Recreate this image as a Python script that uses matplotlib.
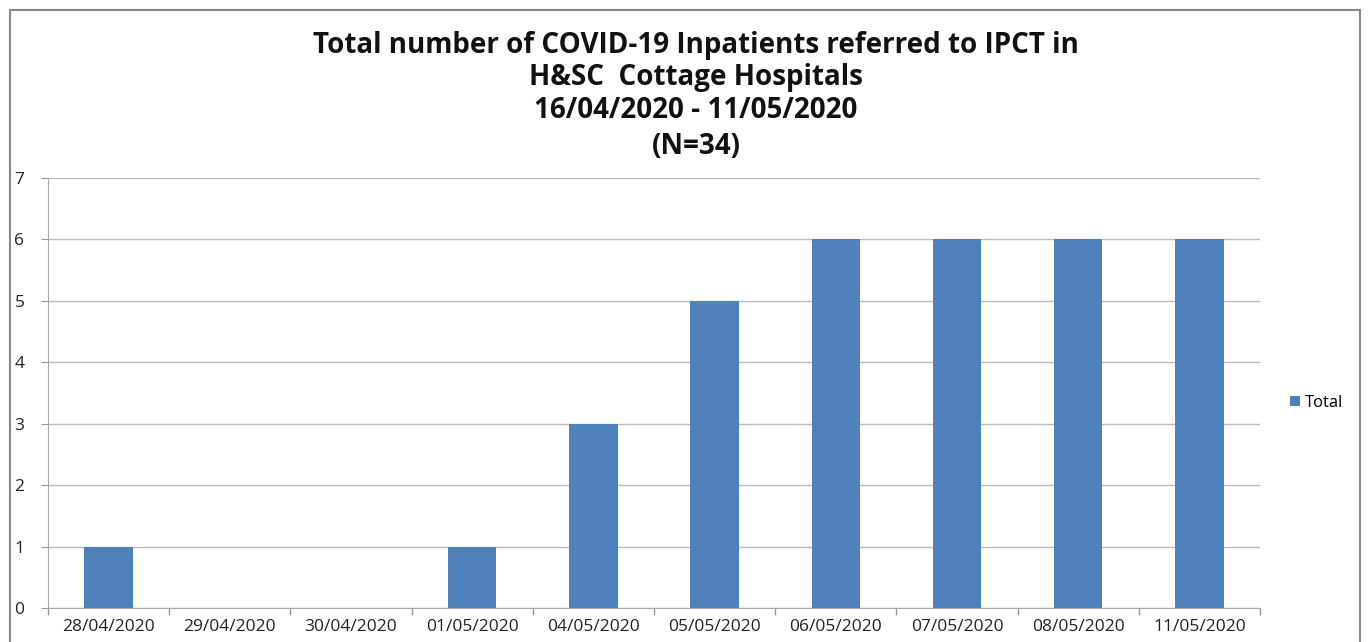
import numpy as np
import matplotlib.pyplot as plt
from matplotlib.patches import Rectangle

dates = ['28/04/2020', '29/04/2020', '30/04/2020', '01/05/2020', '04/05/2020',
         '05/05/2020', '06/05/2020', '07/05/2020', '08/05/2020', '11/05/2020']
totals = [1, 0, 0, 1, 3, 5, 6, 6, 6, 6]

title_lines = ['Total number of COVID-19 Inpatients referred to IPCT in',
               'H&SC  Cottage Hospitals',
               '16/04/2020 - 11/05/2020',
               '(N=34)']
title_y = [45, 77, 111, 147]  # pixel rows of the title lines

plt.rcParams['font.family'] = ['Open Sans', 'DejaVu Sans']

fig = plt.figure(figsize=(13.68, 6.42), dpi=100)
fig.patch.set_facecolor('white')

# outer chart border
fig.patches.append(Rectangle((10/1368, -0.1), 1350/1368, 1.1 - 10/642,
                             transform=fig.transFigure, fill=False,
                             edgecolor='#888888', lw=1.5))

ax = fig.add_axes([48/1368, 1 - 608/642, (1260 - 48)/1368, (608 - 178)/642])
x = np.arange(len(dates))
ax.bar(x, totals, width=0.4, color='#4F81BD', zorder=3, label='Total')

ax.set_xlim(-0.5, len(dates) - 0.5)
ax.set_ylim(0, 7)
ax.set_yticks(range(8))
ax.set_xticks(x)
ax.set_xticklabels(dates, fontsize=12.5, color='#222222')
ax.set_xticks(np.arange(-0.5, len(dates)), minor=True)
ax.tick_params(axis='x', which='major', length=0, pad=8)
ax.tick_params(axis='x', which='minor', length=5, color='#999999', width=1)
ax.tick_params(axis='y', length=5, color='#999999', labelsize=12.5, pad=12,
               labelcolor='#222222')
ax.grid(axis='y', color='#bbbbbb', lw=1, zorder=0)

for s in ['top', 'right']:
    ax.spines[s].set_visible(False)
for s in ['left', 'bottom']:
    ax.spines[s].set_color('#aaaaaa')

for line, yp in zip(title_lines, title_y):
    fig.text(696/1368, 1 - yp/642, line, ha='center', va='center',
             fontsize=20, fontweight='bold', color='#111111')

fig.legend(loc='center left', bbox_to_anchor=(1275/1368, 1 - 403/642),
           frameon=False, fontsize=12, handlelength=0.6, handleheight=0.6,
           handletextpad=0.3)

fig.savefig('out.png', dpi=100)
